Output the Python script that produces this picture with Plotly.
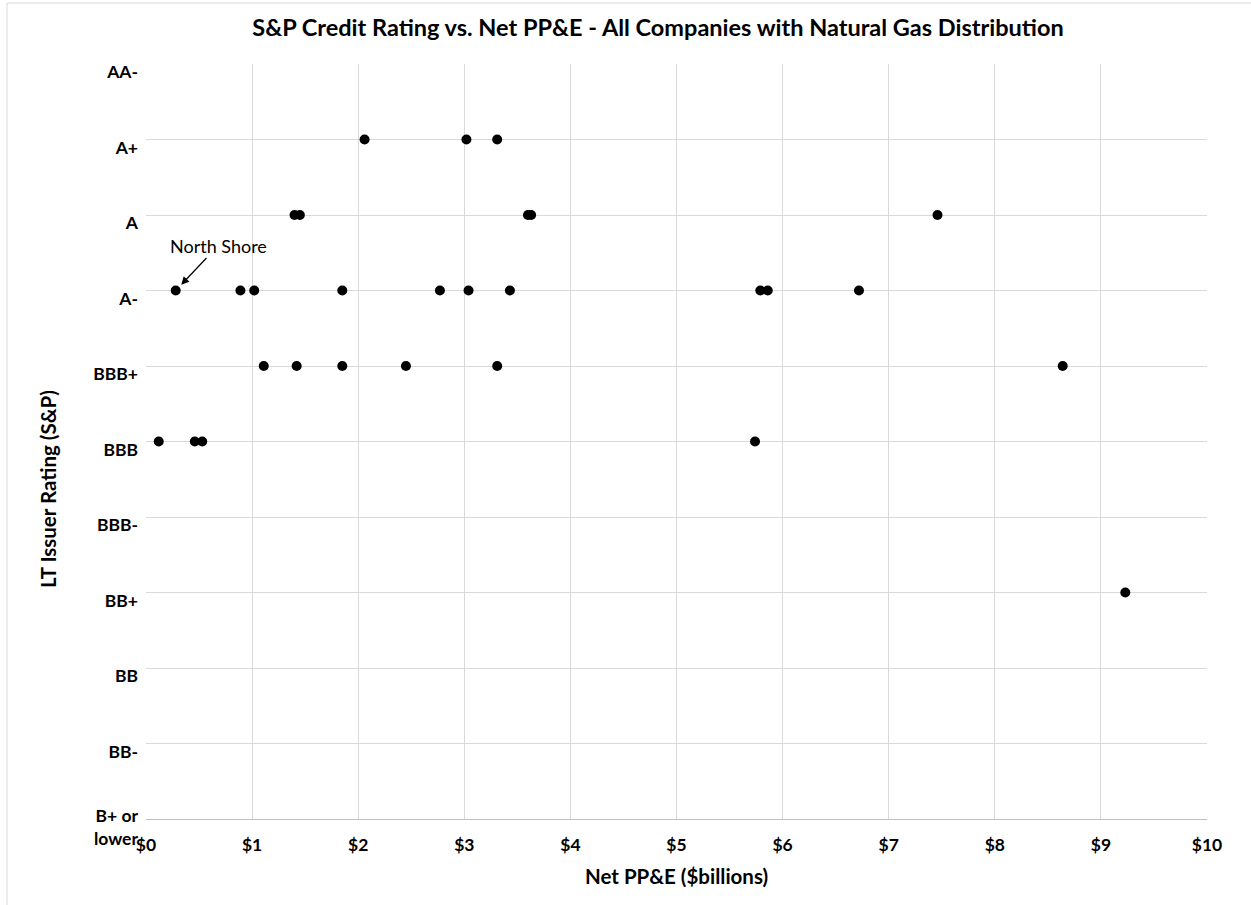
import plotly.graph_objects as go

# Rating scale, top to bottom
ratings = ["AA-", "A+", "A", "A-", "BBB+", "BBB", "BBB-", "BB+", "BB", "BB-", "B+ or<br>lower"]

# Net PP&E ($billions) per company, grouped by S&P rating
pp_e_a_plus = [2.06, 3.02, 3.31]
pp_e_a = [1.40, 1.45, 3.60, 3.63, 7.46]
pp_e_a_minus = [0.28, 0.89, 1.02, 1.85, 2.77, 3.04, 3.43, 5.79, 5.86, 6.72]
pp_e_bbb_plus = [1.11, 1.42, 1.85, 2.45, 3.31, 8.64]
pp_e_bbb = [0.12, 0.46, 0.53, 5.74]
pp_e_bb_plus = [9.23]

x_ticks = [0, 1, 2, 3, 4, 5, 6, 7, 8, 9, 10]
x_tick_labels = ["$0", "$1", "$2", "$3", "$4", "$5", "$6", "$7", "$8", "$9", "$10"]

groups = [("A+", pp_e_a_plus), ("A", pp_e_a), ("A-", pp_e_a_minus),
          ("BBB+", pp_e_bbb_plus), ("BBB", pp_e_bbb), ("BB+", pp_e_bb_plus)]

n = len(ratings)
def ypos(r):
    return (n - 1) - ratings.index(r)

xs, ys = [], []
for r, vals in groups:
    for v in vals:
        xs.append(v)
        ys.append(ypos(r))

FONT = "Lato"
W, H = 1251, 905
L, R, T, B = 146, 44, 64, 86
pw, ph = W - L - R, H - T - B

fig = go.Figure()
fig.add_trace(go.Scatter(x=xs, y=ys, mode="markers",
                         marker=dict(color="black", size=10),
                         showlegend=False, hoverinfo="x"))

fig.update_layout(
    width=W, height=H,
    margin=dict(l=L, r=R, t=T, b=B),
    paper_bgcolor="white", plot_bgcolor="white",
    font=dict(family=FONT, color="black"),
    title=dict(text="<b>S&P Credit Rating vs. Net PP&E - All Companies with Natural Gas Distribution</b>",
               x=658 / W, xref="container", xanchor="center",
               y=1 - 28 / H, yref="container", yanchor="middle",
               font=dict(family=FONT, size=23.5, color="black")),
    xaxis=dict(range=[0, 10], tickvals=x_ticks, ticktext=["<b>%s</b>" % t for t in x_tick_labels],
               showgrid=True, gridcolor="#d9d9d9", gridwidth=1,
               showline=True, linecolor="#bfbfbf", linewidth=1, mirror=False,
               zeroline=False, ticks="", ticklabelstandoff=10,
               tickfont=dict(family=FONT, size=17.5, color="black")),
    yaxis=dict(range=[0, n - 1], tickvals=list(range(n - 1, -1, -1)),
               ticktext=["<b>%s</b>" % t for t in ratings],
               showgrid=True, gridcolor="#d9d9d9", gridwidth=1,
               showline=False, zeroline=False, ticks="",
               ticklabelstandoff=7, ticklabelshift=8,
               tickfont=dict(family=FONT, size=17.5, color="black")),
    annotations=[
        dict(text="<b>Net PP&E ($billions)</b>", xref="paper", yref="paper",
             x=0.5, y=(819 - 876) / ph, xanchor="center", yanchor="middle",
             showarrow=False, font=dict(family=FONT, size=20.5, color="black")),
        dict(text="<b>LT Issuer Rating (S&P)</b>", xref="paper", yref="paper",
             x=(48 - L) / pw, y=(819 - 489) / ph, xanchor="center", yanchor="middle",
             textangle=-90, showarrow=False, font=dict(family=FONT, size=20.5, color="black")),
        dict(text="North Shore", x=pp_e_a_minus[0], y=ypos("A-"), xref="x", yref="y",
             ax=42.6, ay=-45, showarrow=True, arrowhead=2, arrowsize=1.3, arrowwidth=1.2,
             arrowcolor="black", standoff=8, font=dict(family=FONT, size=18, color="black")),
    ],
    shapes=[
        dict(type="line", xref="paper", yref="paper", x0=(7 - L) / pw, x1=(7 - L) / pw,
             y0=(819 - 3) / ph, y1=(819 - 905) / ph, line=dict(color="#d9d9d9", width=1)),
        dict(type="line", xref="paper", yref="paper", x0=(7 - L) / pw, x1=(1251 - L) / pw,
             y0=(819 - 3) / ph, y1=(819 - 3) / ph, line=dict(color="#d9d9d9", width=1)),
    ],
)

fig.write_html("out.html")
